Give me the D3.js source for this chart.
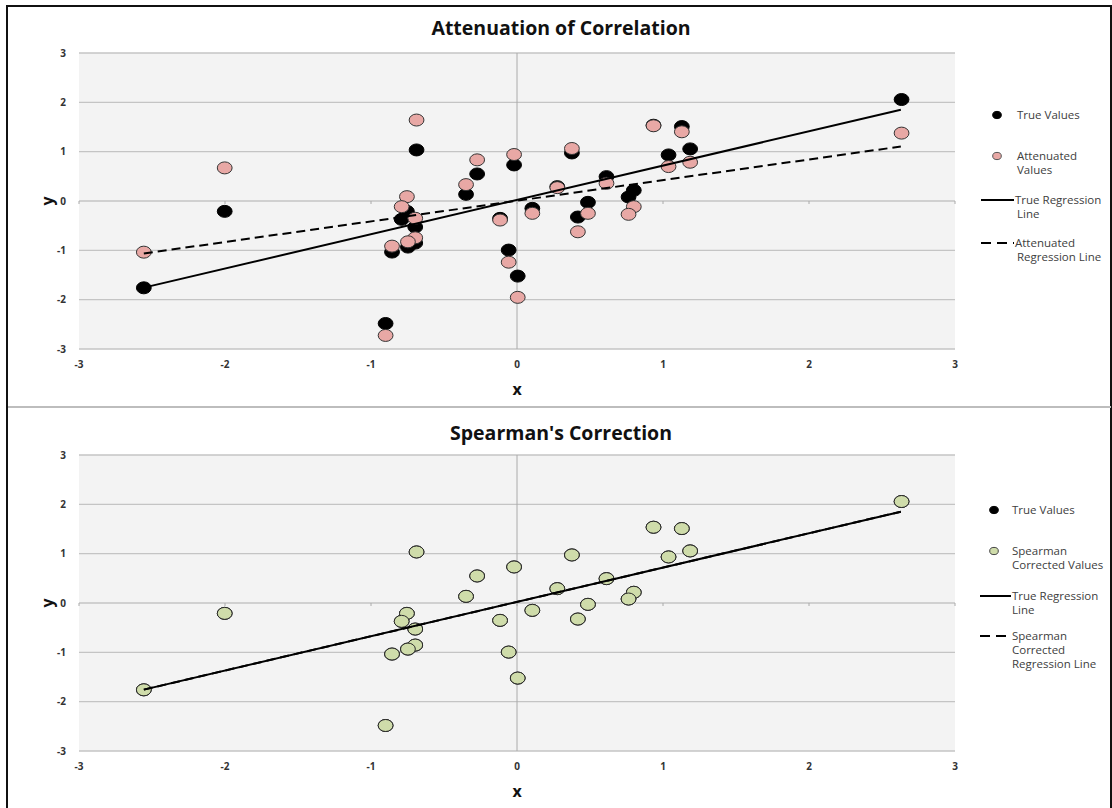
<!DOCTYPE html>
<html>
<head>
<meta charset="utf-8">
<script src="https://cdn.jsdelivr.net/npm/d3@7"></script>
<style>
  html, body { margin: 0; padding: 0; background: #fff; }
  svg { display: block; }
</style>
</head>
<body>
<div id="chart"></div>
<script>
// values
var trueX = [-2.556, -2.002, -0.688, -0.273, -0.020, -0.349, -0.754, -0.790, -0.697, -0.116,
             0.105, -0.697, -0.747, -0.856, -0.057, 0.005, -0.900, 2.634, 0.935, 1.129,
             1.038, 1.186, 0.376, 0.613, 0.276, 0.800, 0.764, 0.486, 0.417];
var trueY = [-1.76, -0.21, 1.035, 0.548, 0.731, 0.135, -0.21, -0.372, -0.528, -0.352,
             -0.149, -0.853, -0.934, -1.035, -0.995, -1.522, -2.483, 2.057, 1.536, 1.509,
             0.934, 1.056, 0.974, 0.494, 0.291, 0.217, 0.081, -0.027, -0.325];
var attenY = [-1.037, 0.671, 1.641, 0.834, 0.942, 0.332, 0.088, -0.115, -0.35, -0.386,
              -0.25, -0.746, -0.827, -0.915, -1.24, -1.953, -2.725, 1.376, 1.525, 1.403,
              0.698, 0.786, 1.064, 0.359, 0.271, -0.115, -0.27, -0.25, -0.624];
// Spearman corrected values sit exactly on the true values in the picture
var correctedY = [-1.76, -0.21, 1.035, 0.548, 0.731, 0.135, -0.21, -0.372, -0.528, -0.352,
                  -0.149, -0.853, -0.934, -1.035, -0.995, -1.522, -2.483, 2.057, 1.536, 1.509,
                  0.934, 1.056, 0.974, 0.494, 0.291, 0.217, 0.081, -0.027, -0.325];

var trueLine = [[-2.556, -1.756], [2.629, 1.851]];
var attenLine = [[-2.556, -1.064], [2.629, 1.105]];
var correctedLine = [[-2.556, -1.756], [2.629, 1.851]];

var xTicks = [-3, -2, -1, 0, 1, 2, 3];
var yTicks = [-3, -2, -1, 0, 1, 2, 3];

var width = 1112, height = 808;
var font = "'Open Sans', 'DejaVu Sans', sans-serif";

var svg = d3.select("#chart").append("svg")
    .attr("width", width)
    .attr("height", height);

// outer frame and separator
svg.append("path")
    .attr("d", "M7,808V6H1111V808")
    .attr("fill", "none")
    .attr("stroke", "#111")
    .attr("stroke-width", 2);
svg.append("line")
    .attr("x1", 8).attr("x2", 1111)
    .attr("y1", 407).attr("y2", 407)
    .attr("stroke", "#bdbdbd")
    .attr("stroke-width", 2);

var panels = [
  {
    title: "Attenuation of Correlation", titleY: 35, top: 53, bottom: 349,
    series: [
      {x: trueX, y: trueY, fill: "#000", stroke: "#000"},
      {x: trueX, y: attenY, fill: "#e8a8a5", stroke: "#333"}
    ],
    lines: [
      {pts: trueLine, dash: null},
      {pts: attenLine, dash: "9,5"}
    ],
    legend: {mx: 997, tx: 1017, lx0: 981, lx1: 1014, items: [
      {type: "dot", fill: "#000", stroke: "#000", y: 115, text: ["True Values"]},
      {type: "dot", fill: "#e8a8a5", stroke: "#555", y: 156, text: ["Attenuated", "Values"]},
      {type: "line", dash: null, y: 200, text: ["True Regression", "Line"]},
      {type: "line", dash: "10,6", y: 243, text: ["Attenuated", "Regression Line"]}
    ]}
  },
  {
    title: "Spearman's Correction", titleY: 440, top: 455, bottom: 751,
    series: [
      {x: trueX, y: trueY, fill: "#000", stroke: "#000"},
      {x: trueX, y: correctedY, fill: "#cfdcaa", stroke: "#2a2a2a"}
    ],
    lines: [
      {pts: correctedLine, dash: "9,5"},
      {pts: trueLine, dash: null}
    ],
    legend: {mx: 994, tx: 1012, lx0: 980, lx1: 1011, items: [
      {type: "dot", fill: "#000", stroke: "#000", y: 510, text: ["True Values"]},
      {type: "dot", fill: "#cfdcaa", stroke: "#444", y: 551, text: ["Spearman", "Corrected Values"]},
      {type: "line", dash: null, y: 596, text: ["True Regression", "Line"]},
      {type: "line", dash: "10,6", y: 636, text: ["Spearman", "Corrected", "Regression Line"]}
    ]}
  }
];

panels.forEach(function(p) {
  var x = d3.scaleLinear().domain([-3, 3]).range([79, 955]);
  var y = d3.scaleLinear().domain([-3, 3]).range([p.bottom, p.top]);
  var g = svg.append("g");

  g.append("rect")
      .attr("x", x(-3)).attr("y", y(3))
      .attr("width", x(3) - x(-3)).attr("height", y(-3) - y(3))
      .attr("fill", "#f3f3f3");

  // horizontal gridlines
  g.selectAll(".grid")
      .data(yTicks)
      .enter().append("line")
      .attr("x1", x(-3)).attr("x2", x(3))
      .attr("y1", function(d) { return y(d); })
      .attr("y2", function(d) { return y(d); })
      .attr("stroke", "#c4c4c4")
      .attr("stroke-width", 1.3);

  // vertical axis at x = 0, with small ticks
  g.append("line")
      .attr("x1", x(0)).attr("x2", x(0))
      .attr("y1", y(3)).attr("y2", y(-3))
      .attr("stroke", "#aaa")
      .attr("stroke-width", 1);
  g.selectAll(".xt")
      .data(xTicks)
      .enter().append("line")
      .attr("x1", function(d) { return x(d); })
      .attr("x2", function(d) { return x(d); })
      .attr("y1", y(0)).attr("y2", y(0) + 3)
      .attr("stroke", "#aaa");

  // tick labels
  g.selectAll(".yl")
      .data(yTicks)
      .enter().append("text")
      .attr("x", 66)
      .attr("y", function(d) { return y(d) + 3.5; })
      .attr("text-anchor", "end")
      .attr("font-family", font)
      .attr("font-size", 10)
      .attr("font-weight", "bold")
      .attr("fill", "#333")
      .text(function(d) { return d; });
  g.selectAll(".xl")
      .data(xTicks)
      .enter().append("text")
      .attr("x", function(d) { return x(d); })
      .attr("y", y(-3) + 19)
      .attr("text-anchor", "middle")
      .attr("font-family", font)
      .attr("font-size", 10)
      .attr("font-weight", "bold")
      .attr("fill", "#333")
      .text(function(d) { return d; });

  // axis titles
  g.append("text")
      .attr("x", x(0))
      .attr("y", y(-3) + 46)
      .attr("text-anchor", "middle")
      .attr("font-family", font)
      .attr("font-size", 16)
      .attr("font-weight", "bold")
      .attr("fill", "#111")
      .text("x");
  g.append("text")
      .attr("transform", "translate(53," + y(0) + ")rotate(-90)")
      .attr("text-anchor", "middle")
      .attr("font-family", font)
      .attr("font-size", 16)
      .attr("font-weight", "bold")
      .attr("fill", "#111")
      .text("y");

  // chart title
  g.append("text")
      .attr("x", 561)
      .attr("y", p.titleY)
      .attr("text-anchor", "middle")
      .attr("font-family", font)
      .attr("font-size", 19.5)
      .attr("font-weight", "bold")
      .attr("fill", "#111")
      .text(p.title);

  // points
  p.series.forEach(function(s) {
    g.selectAll(null)
        .data(d3.range(s.x.length))
        .enter().append("ellipse")
        .attr("cx", function(i) { return x(s.x[i]); })
        .attr("cy", function(i) { return y(s.y[i]); })
        .attr("rx", 7.4)
        .attr("ry", 6)
        .attr("fill", s.fill)
        .attr("stroke", s.stroke)
        .attr("stroke-width", 1);
  });

  // regression lines
  var line = d3.line()
      .x(function(d) { return x(d[0]); })
      .y(function(d) { return y(d[1]); });
  p.lines.forEach(function(l) {
    g.append("path")
        .attr("d", line(l.pts))
        .attr("fill", "none")
        .attr("stroke", "#000")
        .attr("stroke-width", 2)
        .attr("stroke-dasharray", l.dash);
  });

  // legend
  var lg = p.legend;
  lg.items.forEach(function(it) {
    if (it.type === "dot") {
      g.append("ellipse")
          .attr("cx", lg.mx).attr("cy", it.y)
          .attr("rx", 4.3).attr("ry", 3.6)
          .attr("fill", it.fill)
          .attr("stroke", it.stroke)
          .attr("stroke-width", 1);
    } else {
      g.append("line")
          .attr("x1", lg.lx0).attr("x2", lg.lx1)
          .attr("y1", it.y).attr("y2", it.y)
          .attr("stroke", "#000")
          .attr("stroke-width", 2)
          .attr("stroke-dasharray", it.dash);
    }
    var t = g.append("text")
        .attr("y", it.y + 4)
        .attr("font-family", font)
        .attr("font-size", 11.5)
        .attr("fill", "#404040");
    it.text.forEach(function(s, k) {
      t.append("tspan")
          .attr("x", (it.type === "line" && k === 0) ? lg.lx1 + 1 : lg.tx)
          .attr("dy", k === 0 ? 0 : 14)
          .text(s);
    });
  });
});
</script>
</body>
</html>
